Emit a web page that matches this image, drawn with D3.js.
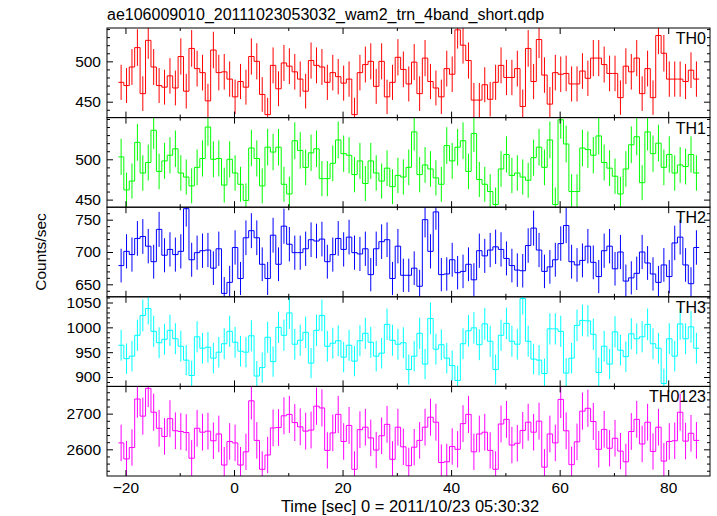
<!DOCTYPE html>
<html><head><meta charset="utf-8">
<script src="https://cdn.jsdelivr.net/npm/d3@7"></script>
<style>
body{margin:0;background:#fff}
svg{display:block}
text{font-family:"Liberation Sans",Arial,Helvetica,sans-serif;fill:#000}
</style>
</head><body>
<svg id="c" width="717" height="516"></svg>
<script>
// ---- data ----
const binStart = -21.3;   // left edge of first 1-s bin
const binWidth = 1;
const th0 = [474,470,493,517,460,526,493,470,468,482, 467,506,463,516,491,486,451,514,486,487,
  478,456,475,468,506,500,459,434,495,466, 498,494,487,478,463,501,495,493,474,486,
  481,473,478,434,486,496,500,469,500,456, 474,505,490, 472,499,460,504,475,467,456,
  491,484,539,520,501,452,452,471,453,474, 495,480,480,491,444,516,475,527,483,447,
  486,484,485,472,472,488,479,504,504,496, 485,485,455,494,487,504,460,491,455,532,
  510,478,478,478,475,489,478];
const th1 = [503,462,473,521,483,496,536,485,498,505, 513,483,478,467,490,501,540,500,501,468,
  500,483,469,449,514,501,467,515,509,515, 469,457,523,511,490,508,513,476,476,495,
  524,507,505,481,498,470,498,483,473,489, 466,480,478, 490,534,481,493,488,477,469,
  517,498,515,523,485,532,475,469,460,444, 488,506,480,483,478,474,502,515,490,524,
  444,549,519,460,460,514,512,505,529,496, 489,479,457,488,518,528,471,534,507,520,
  490,506,483,493,491,506,483];
const th2 = [679,701,696,721,724,709,685,735,695,704, 696,701,767,688,699,702,703,675,705,636,
  653,707,659,722,733,722,681,659,726,681, 740,712,699,699,705,719,717,720,685,696,
  721,704,723,699,697,705,665,705,716,719, 659,709,664, 664,675,647,750,701,762,665,
  666,688,668,670,681,657,702,694,703,708, 704,690,679,672,671,710,737,703,670,677,
  688,713,741,685,680,687,709,684,662,702, 709,674,700,655,660,667,700,683,666,653,
  680,662,714,723,680,651,707];
const th3 = [964,937,942,984,1024,1038,992,969,976,994, 977,962,934,903,981,958,960,938,950,967,
  992,970,952,950,983,902,919,980,931,1000, 984,1029,966,974,990,928,994,1024,962,968,
  973,940,964,932,973,988,970,942,948,1006, 974,966,969, 915,942,988,926,1018,956,965,
  938,923,893,967,993,999,965,1007,972,915, 984,1008,972,966,1058,972,936,934,907,997,
  997,992,908,938,1004,1014,1013,986,909,962, 926,991,954,941,987,977,981,1006,967,958,
  887,977,942,1007,977,1001,958];
const th0123 = [2618,2573,2605,2741,2693,2771,2704,2659,2636,2686, 2652,2650,2647,2575,2659,2648,2651,2624,2643,2556,
  2622,2618,2556,2593,2736,2625,2544,2584,2660,2661, 2694,2698,2675,2663,2651,2654,2721,2716,2597,2646,
  2698,2622,2667,2544,2655,2662,2632,2598,2638,2670, 2572,2662,2607, 2554,2606,2625,2662,2690,2676,2563,
  2565,2608,2600,2672,2698,2593,2643,2648,2597,2544, 2671,2684,2612,2617,2653,2676,2648,2679,2550,2643,
  2618,2740,2652,2557,2621,2707,2715,2678,2600,2656, 2603,2631,2595,2565,2650,2684,2615,2676,2594,2662,
  2567,2622,2624,2704,2623,2645,2625];

const panelNames  = ["TH0","TH1","TH2","TH3","TH0123"];
const panelSeries = [th0, th1, th2, th3, th0123];
const panelColors = ["#ff0000","#00ff00","#0000ff","#00ffff","#ff00ff"];
const yDomains = [[430.3,541.3],[440.6,551.7],[630.7,769.3],[881.1,1061.5],[2525.2,2776.4]];
const yMajorTicks = [[450,500],[450,500],[650,700,750],[900,950,1000,1050],[2600,2700]];
const yMinorStep = [10,10,10,10,20];
const xDomain = [-23.4, 87.7];
const xMajorTicks = [-20,0,20,40,60,80];
const xMinorTicks = [-10,10,30,50,70];
const title = "ae106009010_20111023053032_wam2_trn_4band_short.qdp";
const xTitle = "Time [sec] 0 = 2011/10/23 05:30:32";
const yTitle = "Counts/sec";

// ---- layout ----
const L = 107, R = 710, T = 28, B = 476;
const nP = panelNames.length, ph = (B - T) / nP;
const svg = d3.select("#c");
const x = d3.scaleLinear().domain(xDomain).range([L, R]);
const fmt = d3.format("d");

svg.append("text").attr("x", L).attr("y", 20).attr("font-size", 16).text(title);

panelSeries.forEach((vals, i) => {
  const y0 = T + i * ph, y1 = y0 + ph;
  const y = d3.scaleLinear().domain(yDomains[i]).range([y1, y0]);
  const col = panelColors[i];
  const cid = "clip" + i;
  svg.append("clipPath").attr("id", cid).append("rect")
    .attr("x", L).attr("y", y0).attr("width", R - L).attr("height", ph);
  const g = svg.append("g").attr("clip-path", `url(#${cid})`);

  const bins = vals.map((v, k) => ({ t0: binStart + k * binWidth, t1: binStart + (k + 1) * binWidth, v }));
  g.selectAll("line.err").data(bins).join("line").attr("class", "err")
    .attr("x1", d => x((d.t0 + d.t1) / 2)).attr("x2", d => x((d.t0 + d.t1) / 2))
    .attr("y1", d => y(d.v - Math.sqrt(d.v))).attr("y2", d => y(d.v + Math.sqrt(d.v)))
    .attr("stroke", col).attr("stroke-width", 1);
  const pts = [];
  bins.forEach(d => { pts.push([d.t0, d.v]); pts.push([d.t1, d.v]); });
  g.append("path").datum(pts)
    .attr("d", d3.line().x(p => x(p[0])).y(p => y(p[1])))
    .attr("fill", "none").attr("stroke", col).attr("stroke-width", 1);

  const minors = d3.range(Math.ceil(yDomains[i][0] / yMinorStep[i]) * yMinorStep[i], yDomains[i][1], yMinorStep[i])
    .filter(v => !yMajorTicks[i].includes(v));
  const ax = (axisFn, sc, vals2, size, labels) => {
    const a = axisFn(sc).tickValues(vals2).tickSize(size).tickPadding(6);
    a.tickFormat(labels ? fmt : "");
    return a;
  };
  const gl = svg.append("g").attr("transform", `translate(${L},0)`);
  gl.call(ax(d3.axisLeft, y, yMajorTicks[i], -6, true));
  gl.append("g").call(ax(d3.axisLeft, y, minors, -3, false));
  const gr = svg.append("g").attr("transform", `translate(${R},0)`);
  gr.call(ax(d3.axisRight, y, yMajorTicks[i], -6, false));
  gr.append("g").call(ax(d3.axisRight, y, minors, -3, false));
  const gt = svg.append("g").attr("transform", `translate(0,${y0})`);
  gt.call(ax(d3.axisTop, x, xMajorTicks, -6, false));
  gt.append("g").call(ax(d3.axisTop, x, xMinorTicks, -3, false));
  const gb = svg.append("g").attr("transform", `translate(0,${y1})`);
  gb.call(ax(d3.axisBottom, x, xMajorTicks, -6, i === nP - 1));
  gb.append("g").call(ax(d3.axisBottom, x, xMinorTicks, -3, false));

  svg.append("text").attr("x", R - 4).attr("y", y0 + 16).attr("text-anchor", "end")
    .attr("font-size", 16).text(panelNames[i]);
  svg.append("rect").attr("x", L).attr("y", y0).attr("width", R - L).attr("height", ph)
    .attr("fill", "none").attr("stroke", "#000").attr("stroke-width", 1);
});

svg.selectAll(".domain").remove();
svg.selectAll(".tick line").attr("stroke", "#000");
svg.selectAll(".tick text").attr("font-size", 15.5).attr("font-family", '"Liberation Sans",Arial,sans-serif');

svg.append("text").attr("x", 410).attr("y", 512).attr("text-anchor", "middle")
  .attr("font-size", 16.5).text(xTitle);
svg.append("text").attr("transform", `translate(46,${(T + B) / 2}) rotate(-90)`)
  .attr("text-anchor", "middle").attr("font-size", 15.5).text(yTitle);
</script>
</body></html>
